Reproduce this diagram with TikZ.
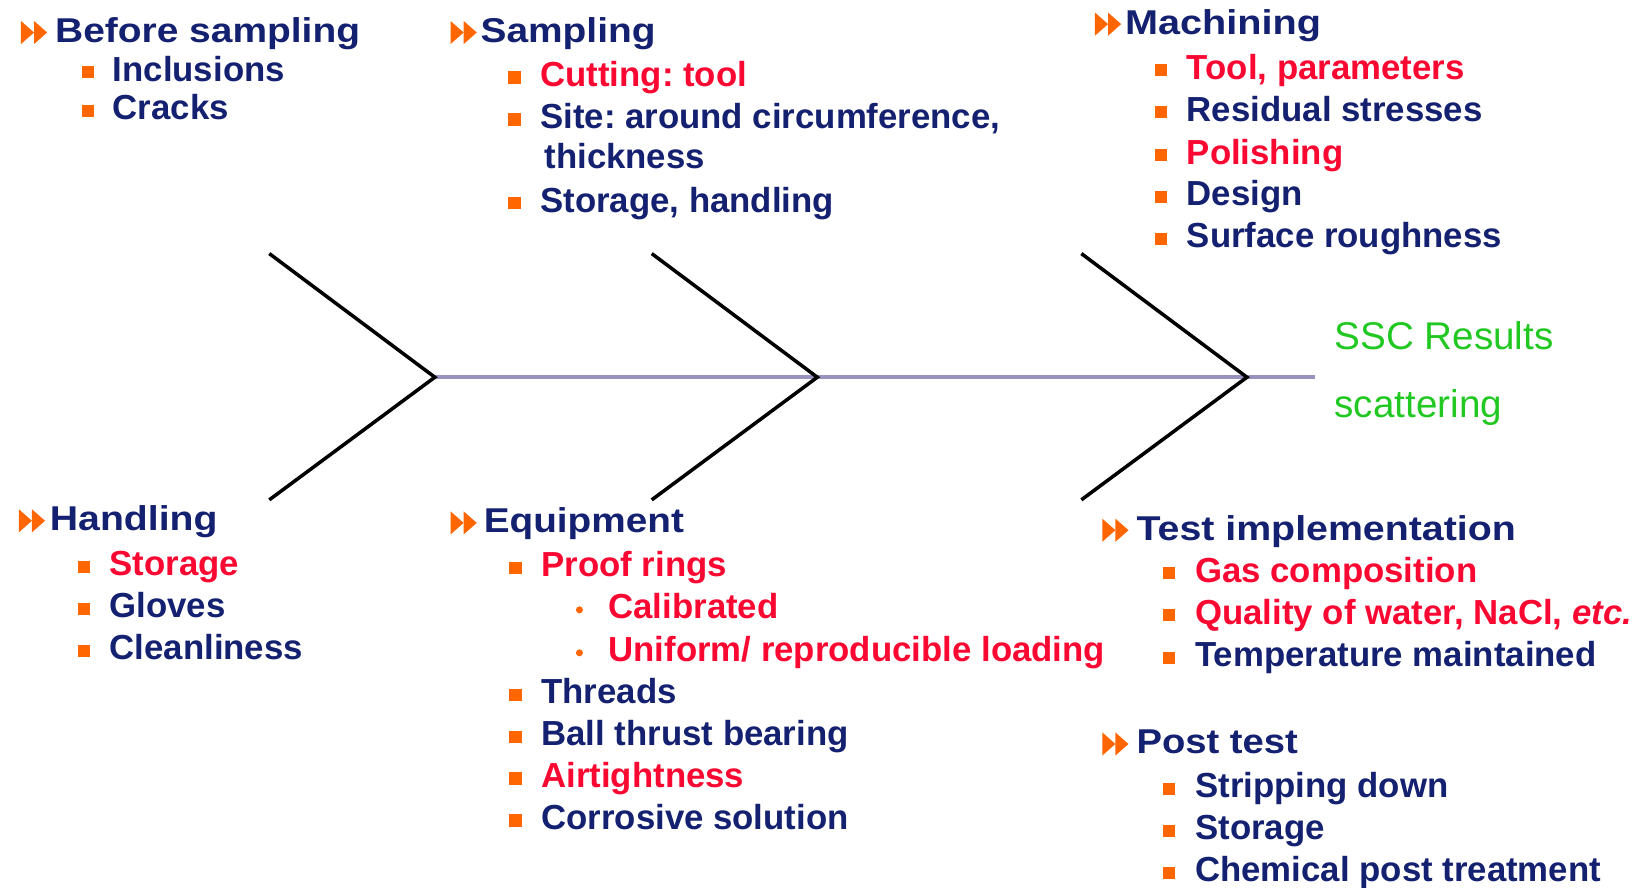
\documentclass[tikz,border=0pt]{standalone}
\usepackage{fontspec}
\setmainfont{Liberation Sans}
\usepackage{graphicx}
\frenchspacing
\definecolor{navy}{RGB}{20,32,112}
\definecolor{hot}{RGB}{250,8,50}
\definecolor{bul}{RGB}{255,102,0}
\definecolor{grn}{RGB}{34,200,34}
\definecolor{spinecol}{RGB}{155,145,190}
\newlength\U \setlength\U{0.010478cm}
\newcommand\bitem[6]{\node[sq] (#1-b) at (#2,#4+2) {}; \node[#5] (#1) at (#3,#4+10.5) {#6};}
\newcommand\ditem[6]{\node[dotb] (#1-b) at (#2,#4+2) {}; \node[#5] (#1) at (#3,#4+10.5) {#6};}
\begin{document}
\begin{tikzpicture}[x=0.010478cm, y=-0.010478cm,
  hdrs/.style={anchor=base west, inner sep=0pt, text=navy, font=\fontsize{9.8}{12}\selectfont\bfseries},
  itm/.style={anchor=base west, inner sep=0pt, text=navy, font=\fontsize{9.9}{12}\selectfont\bfseries},
  itmr/.style={itm, text=hot},
  sq/.style={fill=bul, minimum size=1.22mm, inner sep=0pt, draw=none},
  dotb/.style={circle, fill=bul, minimum size=0.7mm, inner sep=0pt, draw=none},
  res/.style={anchor=base west, inner sep=0pt, text=grn, font=\fontsize{11}{13}\selectfont},
  bone/.style={draw=black, line width=1pt},
  spn/.style={draw=spinecol, line width=1pt},
  dblarrow/.pic={\fill[bul] (0,-11)--(12.5,0)--(0,11)--cycle; \fill[bul] (12.5,-11)--(25,0)--(12.5,11)--cycle;}
]
\path[fill=white] (0,0) rectangle (1568,847);
\useasboundingbox (0,0) rectangle (1568,847);

% fishbone
\coordinate (h1) at (415,360); \coordinate (h1t) at (257,242); \coordinate (h1b) at (257,477);
\coordinate (h2) at (780,360); \coordinate (h2t) at (622,242); \coordinate (h2b) at (622,477);
\coordinate (h3) at (1190,360); \coordinate (h3t) at (1032,242); \coordinate (h3b) at (1032,477);
\coordinate (tail) at (1255,360);
\draw[spn] (h1) -- (h2) -- (h3) -- (tail);
\draw[bone] (h1t) -- (h1) -- (h1b);
\draw[bone] (h2t) -- (h2) -- (h2b);
\draw[bone] (h3t) -- (h3) -- (h3b);

\node[res] (ssc) at (1273,334) {SSC Results};
\node[res] (scat) at (1273,398) {scattering};

% Before sampling
\pic at (20,31) {dblarrow};
\node[hdrs] (bs) at (52,40.5) {\resizebox{291\U}{\height}{Before sampling}};
\bitem{bs1}{84}{107}{67}{itm}{Inclusions}
\bitem{bs2}{84}{107}{104}{itm}{Cracks}

% Sampling
\pic at (430,31) {dblarrow};
\node[hdrs] (sa) at (458,40.5) {\resizebox{167\U}{\height}{Sampling}};
\bitem{sa1}{491}{515}{72}{itmr}{Cutting: tool}
\bitem{sa2}{491}{515}{112}{itm}{Site: around circumference,}
\node[itm] (sa2b) at (519,160.5) {thickness};
\bitem{sa3}{491}{515}{192}{itm}{Storage, handling}

% Machining
\pic at (1045,23) {dblarrow};
\node[hdrs] (ma) at (1073,32.5) {\resizebox{187\U}{\height}{Machining}};
\bitem{ma1}{1108}{1132}{65}{itmr}{Tool, parameters}
\bitem{ma2}{1108}{1132}{105}{itm}{Residual stresses}
\bitem{ma3}{1108}{1132}{146}{itmr}{Polishing}
\bitem{ma4}{1108}{1132}{186}{itm}{Design}
\bitem{ma5}{1108}{1132}{226}{itm}{Surface roughness}

% Handling
\pic at (18,497) {dblarrow};
\node[hdrs] (ha) at (47,506.5) {\resizebox{160\U}{\height}{Handling}};
\bitem{ha1}{80}{104}{539}{itmr}{Storage}
\bitem{ha2}{80}{104}{579}{itm}{Gloves}
\bitem{ha3}{80}{104}{619}{itm}{Cleanliness}

% Equipment
\pic at (430,499) {dblarrow};
\node[hdrs] (eq) at (461,508.5) {\resizebox{191\U}{\height}{Equipment}};
\bitem{eq1}{492}{516}{540}{itmr}{Proof rings}
\ditem{eq1a}{553}{580}{580}{itmr}{Calibrated}
\ditem{eq1b}{553}{580}{621}{itmr}{Uniform/ reproducible loading}
\bitem{eq2}{492}{516}{661}{itm}{Threads}
\bitem{eq3}{492}{516}{701}{itm}{Ball thrust bearing}
\bitem{eq4}{492}{516}{741}{itmr}{Airtightness}
\bitem{eq5}{492}{516}{781}{itm}{Corrosive solution}

% Test implementation
\pic at (1052,506) {dblarrow};
\node[hdrs] (ti) at (1084,515.5) {\resizebox{362\U}{\height}{Test implementation}};
\bitem{ti1}{1116}{1140}{545}{itmr}{Gas composition}
\bitem{ti2}{1116}{1140}{585}{itmr}{Quality of water, NaCl, \textit{etc.}}
\bitem{ti3}{1116}{1140}{626}{itm}{Temperature maintained}

% Post test
\pic at (1052,710) {dblarrow};
\node[hdrs] (pt) at (1084,719.5) {\resizebox{154\U}{\height}{Post test}};
\bitem{pt1}{1116}{1140}{751}{itm}{Stripping down}
\bitem{pt2}{1116}{1140}{791}{itm}{Storage}
\bitem{pt3}{1116}{1140}{831}{itm}{Chemical post treatment}
\end{tikzpicture}
\end{document}
